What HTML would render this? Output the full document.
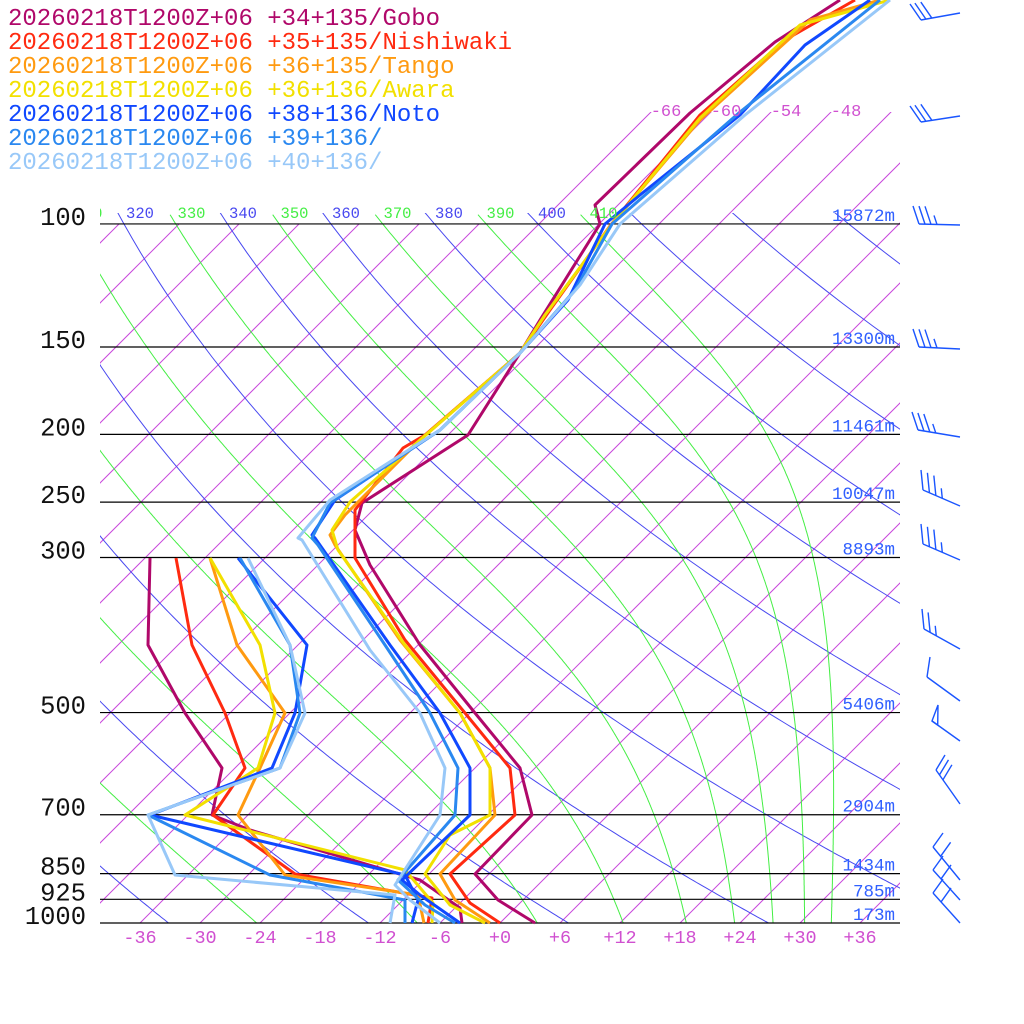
<!DOCTYPE html>
<html><head><meta charset="utf-8"><style>
html,body{margin:0;padding:0;background:#fff;width:1024px;height:1024px;overflow:hidden}
svg text{font-family:"Liberation Mono",monospace}
</style></head><body>
<svg id="s" xmlns="http://www.w3.org/2000/svg" width="1024" height="1024" viewBox="0 0 1024 1024">
<defs>
<clipPath id="pa"><rect x="100" y="224" width="800" height="699"/></clipPath>
<clipPath id="pt"><rect x="100" y="112" width="800" height="811"/></clipPath>
<clipPath id="pb"><rect x="100" y="213" width="800" height="710"/></clipPath>
<clipPath id="pl"><rect x="100" y="190" width="800" height="40"/></clipPath>
</defs>
<g id="grid"></g>
<g id="data" fill="none" stroke-width="3" stroke-linejoin="round"></g>
<g id="txt"></g>
<g id="barbs" stroke="#1a55ff" stroke-width="1.4" fill="none"></g>
</svg>
<script>
const NS="http://www.w3.org/2000/svg";
function el(p,t,a,txt){const e=document.createElementNS(NS,t);for(const k in a)e.setAttribute(k,a[k]);if(txt!==undefined)e.textContent=txt;p.appendChild(e);return e;}
const Y=p=>923-303.6*Math.log(1000/p);
const X=(T,y)=>500+10*T+(923-y);
const g=document.getElementById('grid'),tx=document.getElementById('txt');
// isotherms
const gi=el(g,'g',{'clip-path':'url(#pa)',stroke:'#c848dc','stroke-width':1});
const gi2=el(g,'g',{'clip-path':'url(#pt)',stroke:'#c848dc','stroke-width':1});
for(let T=-150;T<=50;T+=6){el(T>=-66?gi2:gi,'line',{x1:X(T,923),y1:923,x2:X(T,0),y2:0});}
// dry adiabats (blue)
const ga=el(g,'g',{'clip-path':'url(#pb)',fill:'none','stroke-width':1});
for(let th=160;th<=460;th+=20){let pts=[];for(let p=1000;p>=95;p-=5){const y=Y(p);const T=th*Math.pow(p/1000,0.286)-273.15;pts.push(X(T,y).toFixed(1)+','+y.toFixed(1));}
el(ga,'polyline',{points:pts.join(' '),stroke:'#4848f0'});}
// moist adiabats (green)
function es(Tc){return 6.112*Math.exp(17.67*Tc/(Tc+243.5));}
for(let L=170;L<=410;L+=20){
 let p=97,T=L*Math.pow(p/1000,0.286);let pts=[];
 while(p<=1000.5){const y=Y(p);pts.push(X(T-273.15,y).toFixed(1)+','+y.toFixed(1));
  const dp=1;const e=es(T-273.15);const rs=0.622*e/Math.max(p-e,1);
  const Lv=2.5e6,Rd=287,cp=1004;
  const dTdp=(Rd*T+Lv*rs)/(p*(cp+Lv*Lv*rs*0.622/(Rd*T*T)));
  T+=dTdp*dp;p+=dp;}
 el(ga,'polyline',{points:pts.join(' '),stroke:'#44ee44'});
}
// theta labels
const gl=el(tx,'g',{'clip-path':'url(#pl)'});
for(let th=310;th<=410;th+=10){el(gl,'text',{x:140+(th-320)*5.15,y:218,'font-size':15.5,fill:(th%20==0)?'#4848f0':'#44ee44','text-anchor':'middle'},String(th));}
// pressure lines
const lv=[[100,'15872m'],[150,'13300m'],[200,'11461m'],[250,'10047m'],[300,'8893m'],[500,'5406m'],[700,'2904m'],[850,'1434m'],[925,'785m'],[1000,'173m']];
for(const [p,h] of lv){const y=Y(p);el(g,'line',{x1:100,y1:y,x2:900,y2:y,stroke:'#000','stroke-width':1.2});
el(tx,'text',{x:895,y:y-3,'font-size':17.5,fill:'#3060ff','text-anchor':'end'},h);
el(tx,'text',{x:86,y:y+1,'font-size':25.5,fill:'#111','text-anchor':'end'},String(p));}
for(let T=-36;T<=36;T+=6){el(tx,'text',{x:500+10*T,y:943,'font-size':18.5,fill:'#d050d0','text-anchor':'middle'},(T>=0?'+':'')+T);}
[[-66,666],[-60,726],[-54,786],[-48,846]].forEach(a=>el(tx,'text',{x:a[1],y:116,'font-size':17,fill:'#d050d0','text-anchor':'middle'},String(a[0])));
// legend
const Lg=[['#b0086a','+34+135/Gobo'],['#ff2a10','+35+135/Nishiwaki'],['#ff9a10','+36+135/Tango'],['#f2e000','+36+136/Awara'],['#1048ff','+38+136/Noto'],['#2a88f0','+39+136/'],['#98c8f8','+40+136/']];
Lg.forEach((l,i)=>el(tx,'text',{x:8,y:25+i*24,'font-size':24,fill:l[0]},'20260218T1200Z+06 '+l[1]));
// data
const D=[
['#b0086a',[[535,923],[498,900],[475,874],[532,815],[520,768],[475,713],[420,645],[370,565],[355,530],[362,503],[468,435],[520,353],[540,320],[600,224],[595,205],[690,113],[775,42],[840,0]],
 [[150,558],[148,645],[185,713],[222,768],[212,815],[250,830],[420,880],[460,908],[462,923]]],
['#ff2a10',[[500,923],[470,903],[450,874],[515,815],[510,768],[465,713],[405,640],[355,558],[355,510],[403,448],[425,435],[520,353],[550,310],[610,226],[700,115],[785,40],[855,0]],
 [[176,558],[192,645],[225,713],[245,768],[213,815],[295,874],[432,898],[428,923]]],
['#ff9a10',[[490,923],[455,900],[440,874],[495,815],[490,768],[460,713],[400,640],[335,545],[330,535],[345,515],[360,500],[420,440],[520,353],[545,315],[612,224],[700,120],[810,20],[880,0]],
 [[210,558],[237,645],[285,713],[260,768],[238,815],[285,875],[418,895],[424,923]]],
['#f2e000',[[485,923],[450,905],[425,874],[450,835],[490,815],[490,768],[460,713],[405,645],[338,550],[332,530],[350,502],[420,440],[520,353],[545,315],[612,224],[700,118],[800,25],[890,0]],
 [[210,558],[260,645],[275,713],[258,768],[185,815],[405,870],[433,903],[432,923]]],
['#1048ff',[[460,923],[420,895],[402,880],[470,815],[470,768],[440,713],[390,645],[315,538],[312,535],[335,500],[440,430],[520,353],[568,300],[605,224],[640,195],[740,115],[805,45],[870,0]],
 [[238,558],[307,645],[295,713],[272,768],[150,815],[405,875],[418,900],[412,923]]],
['#2a88f0',[[455,923],[425,905],[398,880],[455,815],[458,768],[430,713],[385,645],[318,545],[312,538],[330,503],[440,430],[520,353],[575,290],[612,224],[740,112],[880,0]],
 [[240,558],[290,645],[300,713],[280,768],[148,815],[270,875],[405,900],[405,923]]],
['#98c8f8',[[440,923],[410,900],[395,885],[440,815],[445,768],[420,713],[370,650],[302,540],[298,538],[330,500],[440,430],[520,353],[580,285],[620,224],[745,115],[890,0]],
 [[248,558],[290,645],[305,713],[280,768],[148,815],[175,875],[395,895],[390,923]]]];
const gd=document.getElementById('data');
D.forEach(d=>{el(gd,'polyline',{points:d[1].join(' '),stroke:d[0]});el(gd,'polyline',{points:d[2].join(' '),stroke:d[0]});});
// barbs
const gb=document.getElementById('barbs');
function barb(y1,xe,ye,ticks,tdx,tdy,flag){
 el(gb,'line',{x1:960,y1:y1,x2:xe,y2:ye});
 const dx=960-xe,dy=y1-ye,len=Math.hypot(dx,dy),ux=dx/len,uy=dy/len;
 ticks.forEach(t=>{const bx=xe+ux*t[0],by=ye+uy*t[0];el(gb,'line',{x1:bx,y1:by,x2:bx+tdx*t[1],y2:by+tdy*t[1]});});
 if(flag){el(gb,'polygon',{points:`${xe},${ye} ${xe+ux*7},${ye+uy*7} ${xe+tdx},${ye+tdy}`});}
}
barb(13,921,20,[[0,1],[5,1],[11,1]],-11,-16);
barb(116,921,122,[[0,1],[5,1],[11,1]],-11,-16);
barb(225,919,224,[[0,1],[6,1],[12,1],[18,0.5]],-6,-18);
barb(349,919,347,[[0,1],[6,1],[12,1],[18,0.5]],-6,-18);
barb(437,918,430,[[0,1],[6,1],[12,1],[18,0.5]],-6,-18);
barb(506,923,490,[[0,1],[7,1],[14,1],[21,0.5]],-2,-20);
barb(560,923,544,[[0,1],[7,1],[14,1],[21,0.5]],-2,-20);
barb(649,924,629,[[0,1],[7,1],[14,0.5]],-2,-20);
barb(701,927,677,[[0,1]],3,-20);
barb(741,932,721,[],6,-16,true);
barb(804,936,770,[[0,1],[6,1],[12,1]],9,-15);
barb(880,933,847,[[0,1],[12,1]],10,-14);
barb(900,933,870,[[0,1],[12,1]],10,-14);
barb(923,933,893,[[0,1],[12,1]],10,-14);
</script>
</body></html>
